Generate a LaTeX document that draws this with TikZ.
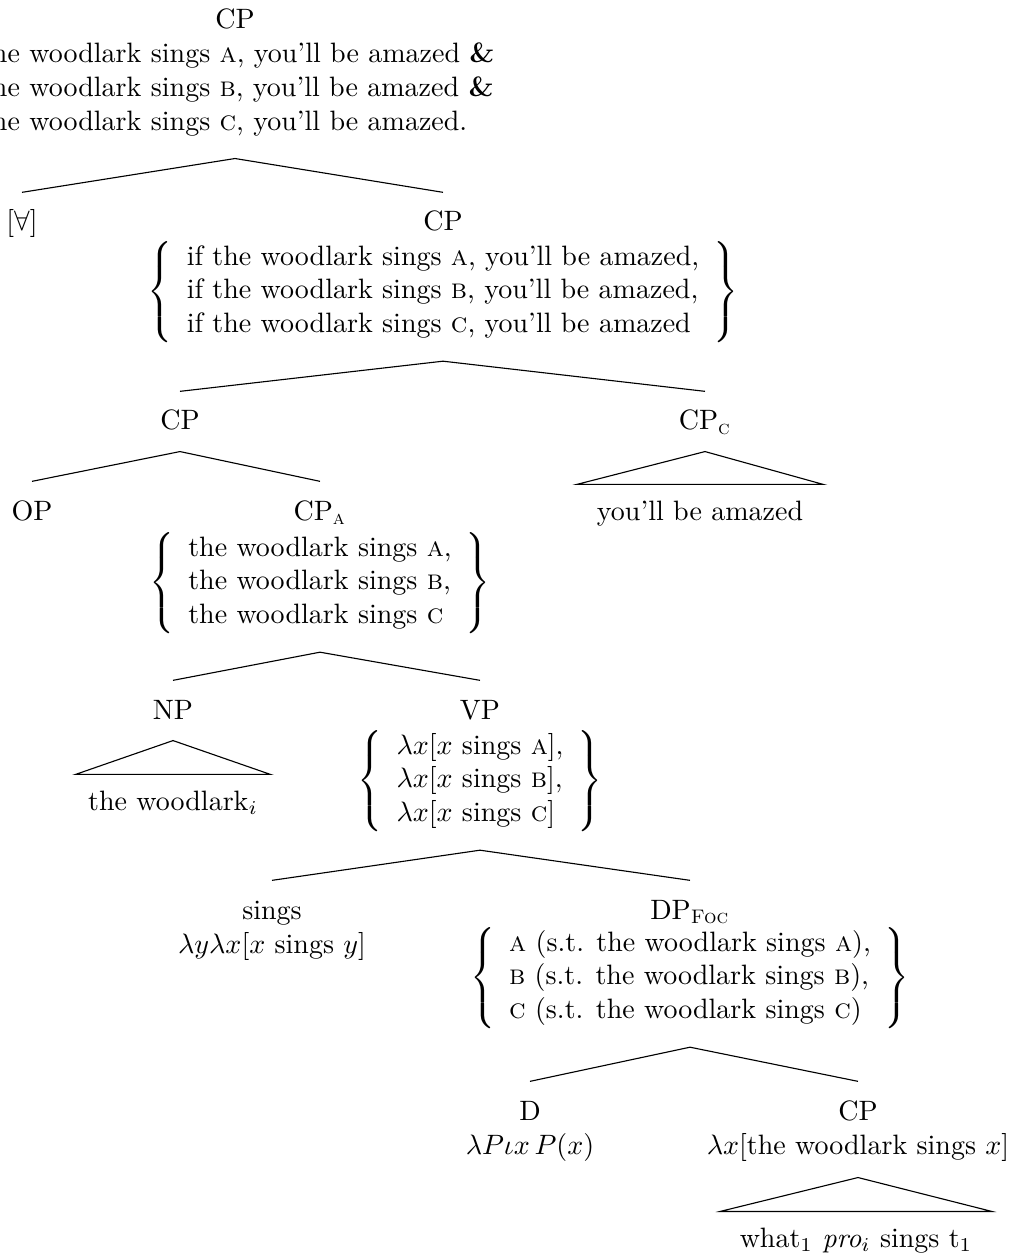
\documentclass[tikz,border=0pt]{standalone}
\usepackage{amsmath}
\begin{document}
\begin{tikzpicture}[x=0.357pt, y=-0.357pt,
  lab/.style={anchor=base, inner sep=0pt, text height=13.6pt, text depth=7.5pt},
  sem/.style={anchor=base, inner sep=0pt},
  set/.style={anchor=base, inner sep=0pt, text depth=22pt},
  roof/.style={anchor=base, inner ysep=0pt, text height=12.5pt, inner xsep=#1},
  roof/.default=6pt,
  rootblk/.style={anchor=base, inner sep=0pt, text depth=33.9pt}]
\useasboundingbox (0,0) rectangle (1009,1255);

% root: the conjunction of the three conditionals
\node[lab] (root) at (235,29) {CP};
\node[rootblk] (rootsem) at (235,63) {\hspace*{-8pt}\begin{tabular}[t]{@{}l@{}}
If the woodlark sings \textsc{a}, you'll be amazed \textbf{\&}\\
If the woodlark sings \textsc{b}, you'll be amazed \textbf{\&}\\
If the woodlark sings \textsc{c}, you'll be amazed.
\end{tabular}};

% universal quantifier and conditional set
\node[lab] (forall) at (22,231) {[$\forall$]};
\node[lab] (cpa1) at (443,231) {CP};
\node[set] (cpa1s) at (443,299) {$\left\{\begin{array}{l}
\text{if the woodlark sings \textsc{a}, you'll be amazed,}\\
\text{if the woodlark sings \textsc{b}, you'll be amazed,}\\
\text{if the woodlark sings \textsc{c}, you'll be amazed}
\end{array}\right\}$};
\draw (rootsem.south) -- (forall.north);
\draw (rootsem.south) -- (cpa1.north);

% antecedent and consequent
\node[lab] (cpb) at (180,430) {CP};
\node[lab] (cpc) at (705,430) {CP$_{\text{\textsc{c}}}$};
\draw (cpa1s.south) -- (cpb.north);
\draw (cpa1s.south) -- (cpc.north);
\node[roof=7pt] (cpcr) at (700,520) {you'll be amazed};
\draw (cpc.south) -- (cpcr.north west) -- (cpcr.north east) -- cycle;

% operator and question set
\node[lab] (op) at (32,520) {OP};
\node[lab] (cpq) at (320,520) {CP$_{\text{\textsc{a}}}$};
\node[set] (cpqs) at (320,590) {$\left\{\begin{array}{l}
\text{the woodlark sings \textsc{a},}\\
\text{the woodlark sings \textsc{b},}\\
\text{the woodlark sings \textsc{c}}
\end{array}\right\}$};
\draw (cpb.south) -- (op.north);
\draw (cpb.south) -- (cpq.north);

% subject and predicate
\node[lab] (np) at (173,719) {NP};
\node[roof=4.3pt] (npr) at (173,810) {the woodlark$_i$};
\draw (np.south) -- (npr.north west) -- (npr.north east) -- cycle;
\node[lab] (vp) at (480,719) {VP};
\node[set] (vps) at (480,788) {$\left\{\begin{array}{l}
\lambda x[x \text{ sings \textsc{a}}],\\
\lambda x[x \text{ sings \textsc{b}}],\\
\lambda x[x \text{ sings \textsc{c}}]
\end{array}\right\}$};
\draw (cpqs.south) -- (np.north);
\draw (cpqs.south) -- (vp.north);

% verb and focused DP
\node[lab] (v) at (272,919) {sings};
\node[sem] (vsem) at (272,953) {$\lambda y\lambda x[x \text{ sings } y]$};
\node[lab] (dp) at (690,919) {DP$_{\text{\textsc{Foc}}}$};
\node[set] (dps) at (690,985) {$\left\{\begin{array}{l}
\text{\textsc{a} (s.t. the woodlark sings \textsc{a}),}\\
\text{\textsc{b} (s.t. the woodlark sings \textsc{b}),}\\
\text{\textsc{c} (s.t. the woodlark sings \textsc{c})}
\end{array}\right\}$};
\draw (vps.south) -- (v.north);
\draw (vps.south) -- (dp.north);

% determiner and relative clause
\node[lab] (d) at (530,1120) {D};
\node[sem] (dsem) at (530,1154) {$\lambda P\iota x\, P(x)$};
\node[lab] (cpr) at (858,1120) {CP};
\node[sem, text depth=8.2pt] (cprsem) at (858,1154) {$\lambda x[\text{the woodlark sings } x]$};
\draw (dps.south) -- (d.north);
\draw (dps.south) -- (cpr.north);
\node[roof=6.8pt] (cprr) at (856,1247) {what$_1$ \textit{pro}$_i$ sings t$_1$};
\draw (cprsem.south) -- (cprr.north west) -- (cprr.north east) -- cycle;
\end{tikzpicture}
\end{document}
